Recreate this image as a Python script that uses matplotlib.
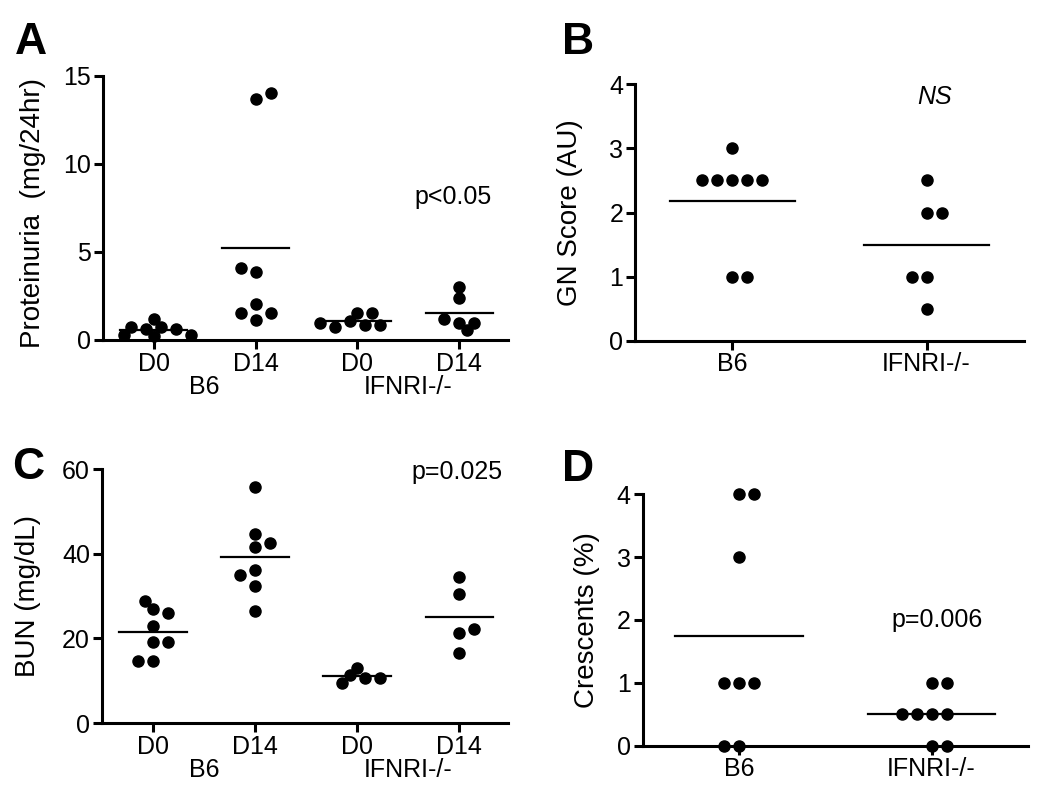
import numpy as np
import matplotlib
matplotlib.use('Agg')
import matplotlib.pyplot as plt
import matplotlib.transforms as mtransforms

plt.rcParams['font.family'] = ['Liberation Sans', 'DejaVu Sans']
plt.rcParams['font.size'] = 18

# A: proteinuria (mg/24hr)
a_labels = ['D0', 'D14', 'D0', 'D14']
a_b6_d0 = [1.2, 0.75, 0.6, 0.6, 0.75, 0.3, 0.3, 0.2]
a_b6_d14 = [13.65, 14.0, 3.85, 4.1, 1.15, 1.5, 1.5, 2.05]
a_ko_d0 = [1.5, 1.5, 1.1, 0.85, 0.75, 0.85, 0.95]
a_ko_d14 = [3.0, 2.4, 0.97, 0.57, 1.19, 0.97]

# B: GN score (AU)
b_labels = ['B6', 'IFNRI-/-']
gn_b6 = [3, 2.5, 2.5, 2.5, 2.5, 2.5, 1, 1]
gn_ko = [2.5, 2, 2, 1, 1, 0.5]

# C: BUN (mg/dL)
c_labels = ['D0', 'D14', 'D0', 'D14']
c_b6_d0 = [22.9, 26.9, 19.1, 19.1, 28.9, 26.1, 14.7, 14.7]
c_b6_d14 = [55.7, 41.5, 44.7, 42.5, 36.2, 35.0, 32.4, 26.5]
c_ko_d0 = [12.9, 10.7, 11.3, 10.6, 9.5]
c_ko_d14 = [34.6, 30.5, 21.2, 22.1, 16.5]

# D: crescents (%)
d_labels = ['B6', 'IFNRI-/-']
cr_b6 = [3, 4, 4, 1, 1, 1, 0, 0]
cr_ko = [1, 1, 0.5, 0.5, 0.5, 0.5, 0, 0]

group_names = ['B6', 'IFNRI-/-']

fig = plt.figure(figsize=(10.5, 7.96), dpi=100)

DOT = 8       # marker size, points
STEP = 7.5    # px, horizontal step of the swarm
MINDIST = 10  # px, minimum distance between dot centres


def swarm(ax, x0, values):
    # simple beeswarm in pixel space
    t = ax.transData
    pxx = t.transform((1, 0))[0] - t.transform((0, 0))[0]
    pxy = t.transform((0, 1))[1] - t.transform((0, 0))[1]
    placed = []
    xs = []
    for v in values:
        y = v * pxy
        k = 0
        chosen = None
        while chosen is None:
            cands = [0] if k == 0 else [k, -k]
            free = [c for c in cands
                    if all(np.hypot(c * STEP - px, y - py) >= MINDIST for px, py in placed)]
            if len(free) == 2:
                right = sum(1 for px, _ in placed if px > 0)
                left = sum(1 for px, _ in placed if px < 0)
                chosen = free[1] if left < right else free[0]
            elif free:
                chosen = free[0]
            k += 1
        placed.append((chosen * STEP, y))
        xs.append(x0 + chosen * STEP / pxx)
    return xs


def style(ax, xlim, ylim, yticks, labels):
    ax.set_xlim(*xlim)
    ax.set_ylim(*ylim)
    ax.set_yticks(yticks)
    ax.set_xticks(range(1, len(labels) + 1))
    ax.set_xticklabels(labels)
    for s in ['top', 'right']:
        ax.spines[s].set_visible(False)
    for s in ['left', 'bottom']:
        ax.spines[s].set_linewidth(2.2)
    ax.tick_params(direction='out', length=6.5, width=2.2, pad=2, labelsize=18)


def draw_groups(ax, groups, half=0.33):
    for i, vals in enumerate(groups):
        x0 = i + 1
        xs = swarm(ax, x0, vals)
        ax.plot(xs, vals, 'o', color='black', ms=DOT, clip_on=False, zorder=4)
        m = np.mean(vals)
        ax.plot([x0 - half, x0 + half], [m, m], color='black', lw=1.6, zorder=3)


def group_text(ax):
    trans = mtransforms.blended_transform_factory(ax.transData, ax.transAxes)
    for i, name in enumerate(group_names):
        ax.annotate(name, xy=(1.5 + 2 * i, 0), xycoords=trans, xytext=(0, -34),
                    textcoords='offset points', ha='center', va='center', fontsize=18)


# Panel A
axA = fig.add_axes([0.098, 0.573, 0.386, 0.332])
style(axA, (0.5, 4.48), (0, 15), [0, 5, 10, 15], a_labels)
draw_groups(axA, [a_b6_d0, a_b6_d14, a_ko_d0, a_ko_d14])
group_text(axA)
axA.set_ylabel('Proteinuria  (mg/24hr)', fontsize=20, va='center')
axA.yaxis.set_label_coords(-0.173, 0.48)
axA.text(3.94, 8.1, 'p<0.05', ha='center', va='center', fontsize=18)

# Panel B
axB = fig.add_axes([0.605, 0.572, 0.370, 0.322])
style(axB, (0.5, 2.5), (0, 4), [0, 1, 2, 3, 4], b_labels)
draw_groups(axB, [gn_b6, gn_ko], half=0.32)
axB.set_ylabel('GN Score (AU)', fontsize=20, va='center')
axB.yaxis.set_label_coords(-0.168, 0.5)
axB.text(2.04, 3.81, 'NS', ha='center', va='center', fontsize=18, style='italic')

# Panel C
axC = fig.add_axes([0.097, 0.0917, 0.387, 0.319])
style(axC, (0.5, 4.48), (0, 60), [0, 20, 40, 60], c_labels)
draw_groups(axC, [c_b6_d0, c_b6_d14, c_ko_d0, c_ko_d14])
group_text(axC)
axC.set_ylabel('BUN (mg/dL)', fontsize=20, va='center')
axC.yaxis.set_label_coords(-0.182, 0.5)
axC.text(3.98, 59.3, 'p=0.025', ha='center', va='center', fontsize=18)

# Panel D
axD = fig.add_axes([0.612, 0.0632, 0.367, 0.316])
style(axD, (0.5, 2.5), (0, 4), [0, 1, 2, 3, 4], d_labels)
draw_groups(axD, [cr_b6, cr_ko])
axD.set_ylabel('Crescents (%)', fontsize=20, va='center')
axD.yaxis.set_label_coords(-0.145, 0.5)
axD.text(2.03, 2.0, 'p=0.006', ha='center', va='center', fontsize=18)

# panel letters
for lab, x, y in [('A', 0.0295, 0.947), ('B', 0.551, 0.946),
                  ('C', 0.0267, 0.413), ('D', 0.551, 0.410)]:
    fig.text(x, y, lab, ha='center', va='center', fontsize=32, fontweight='bold')

fig.savefig('out.png', dpi=100)
